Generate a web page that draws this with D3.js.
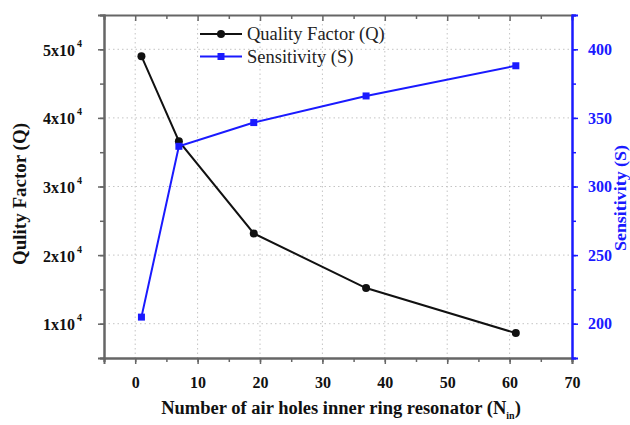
<!DOCTYPE html>
<html>
<head>
<meta charset="utf-8">
<script src="https://cdn.jsdelivr.net/npm/d3@7"></script>
<style>
  body { margin: 0; background: #fff; }
  svg { display: block; }
</style>
</head>
<body>
<svg id="chart" width="630" height="425"></svg>
<script>
// Number of air holes in the inner ring
const holes = [1, 7, 19, 37, 61];
// Quality factor for each configuration
const qualityFactor = [49000, 36600, 23150, 15200, 8630];
// Sensitivity for each configuration
const sensitivity = [204.8, 329.3, 346.6, 366, 388];

const xTicks = [0, 10, 20, 30, 40, 50, 60, 70];
const qTicks = [10000, 20000, 30000, 40000, 50000];
const sTicks = [200, 250, 300, 350, 400];

const legendLabels = ["Quality Factor (Q)", "Sensitivity (S)"];

const FONT = "'Liberation Serif', 'DejaVu Serif', 'Times New Roman', serif";
const W = 630, H = 425;
const m = { left: 104, right: 58, top: 15, bottom: 67 };
const innerW = W - m.left - m.right;
const innerH = H - m.top - m.bottom;

const svg = d3.select("#chart");
const g = svg.append("g").attr("transform", `translate(${m.left},${m.top})`);

const x = d3.scaleLinear().domain([-5, 70]).range([0, innerW]);
const yQ = d3.scaleLinear().domain([5000, 55000]).range([innerH, 0]);
const yS = d3.scaleLinear().domain([175, 425]).range([innerH, 0]);

const axisGray = "#666";
const blue = "#1a1aff";

// dotted grid
g.append("g").selectAll("line").data(xTicks.filter(d => d < 70)).join("line")
  .attr("x1", d => x(d)).attr("x2", d => x(d))
  .attr("y1", 0).attr("y2", innerH)
  .attr("stroke", "#c4c4c4").attr("stroke-width", 1).attr("stroke-dasharray", "1.5,3");
g.append("g").selectAll("line").data(qTicks).join("line")
  .attr("x1", 0).attr("x2", innerW)
  .attr("y1", d => yQ(d)).attr("y2", d => yQ(d))
  .attr("stroke", "#c4c4c4").attr("stroke-width", 1).attr("stroke-dasharray", "1.5,3");

// axes
function styleAxis(sel, color) {
  sel.attr("font-family", null);
  sel.selectAll("path").attr("stroke", color).attr("stroke-width", 2);
  sel.selectAll("line").attr("stroke", color).attr("stroke-width", 1.5);
  sel.selectAll("text")
    .attr("fill", color === axisGray ? "#111" : color)
    .attr("font-size", 16).attr("font-weight", "bold");
}

const xMinor = d3.range(-5, 71, 5);
// bottom minor + major
const bottomMinor = g.append("g").attr("transform", `translate(0,${innerH})`)
  .call(d3.axisBottom(x).tickValues(xMinor).tickSize(4).tickFormat(""));
styleAxis(bottomMinor, axisGray);
const bottomAxis = g.append("g").attr("transform", `translate(0,${innerH})`)
  .call(d3.axisBottom(x).tickValues(xTicks).tickSize(6).tickPadding(13).tickFormat(d3.format("d")));
styleAxis(bottomAxis, axisGray);

// top axis with inward ticks
const topAxis = g.append("g")
  .call(d3.axisBottom(x).tickValues(xMinor).tickSize(5).tickFormat(""));
styleAxis(topAxis, axisGray);
topAxis.selectAll("line").attr("y2", d => xTicks.includes(d) ? 6 : 4);

// left axis
const qMinor = d3.range(5000, 55001, 5000);
const leftMinor = g.append("g").call(d3.axisLeft(yQ).tickValues(qMinor).tickSize(4).tickFormat(""));
styleAxis(leftMinor, axisGray);
const leftAxis = g.append("g").call(d3.axisLeft(yQ).tickValues(qTicks).tickSize(6).tickPadding(8).tickFormat(""));
styleAxis(leftAxis, axisGray);
leftAxis.selectAll(".tick").append("text")
  .attr("x", -29).attr("dy", "0.38em").attr("text-anchor", "end")
  .attr("fill", "#111").attr("font-size", 16).attr("font-weight", "bold")
  .text(d => `${d / 10000}x10`);
leftAxis.selectAll(".tick").append("text")
  .attr("x", -22).attr("y", -3).attr("text-anchor", "end")
  .attr("fill", "#111").attr("font-size", 10).attr("font-weight", "bold")
  .text("4");

// right axis
const sMinor = d3.range(175, 426, 25);
const rightMinor = g.append("g").attr("transform", `translate(${innerW},0)`)
  .call(d3.axisRight(yS).tickValues(sMinor).tickSize(4).tickFormat(""));
styleAxis(rightMinor, blue);
const rightAxis = g.append("g").attr("transform", `translate(${innerW},0)`)
  .call(d3.axisRight(yS).tickValues(sTicks).tickSize(6).tickPadding(10).tickFormat(d3.format("d")));
styleAxis(rightAxis, blue);

// series
const qData = holes.map((h, i) => [h, qualityFactor[i]]);
const sData = holes.map((h, i) => [h, sensitivity[i]]);

g.append("path").datum(qData)
  .attr("fill", "none").attr("stroke", "#111").attr("stroke-width", 2)
  .attr("d", d3.line().x(d => x(d[0])).y(d => yQ(d[1])));
g.append("path").datum(sData)
  .attr("fill", "none").attr("stroke", blue).attr("stroke-width", 2)
  .attr("d", d3.line().x(d => x(d[0])).y(d => yS(d[1])));

g.append("g").selectAll("circle").data(qData).join("circle")
  .attr("cx", d => x(d[0])).attr("cy", d => yQ(d[1])).attr("r", 4)
  .attr("fill", "#111");
g.append("g").selectAll("rect").data(sData).join("rect")
  .attr("x", d => x(d[0]) - 3.5).attr("y", d => yS(d[1]) - 3.5)
  .attr("width", 7).attr("height", 7).attr("fill", blue);

// legend
const legend = svg.append("g");
const legColors = ["#111", blue];
legendLabels.forEach((lab, i) => {
  const ly = 34 + i * 22.5;
  const row = legend.append("g");
  row.append("line").attr("x1", 200).attr("x2", 242).attr("y1", ly).attr("y2", ly)
    .attr("stroke", legColors[i]).attr("stroke-width", 2);
  if (i === 0) {
    row.append("circle").attr("cx", 221).attr("cy", ly).attr("r", 4).attr("fill", legColors[i]);
  } else {
    row.append("rect").attr("x", 217.5).attr("y", ly - 3.5).attr("width", 7).attr("height", 7)
      .attr("fill", legColors[i]);
  }
  row.append("text").attr("x", 247).attr("y", ly).attr("dy", "0.35em")
    .attr("font-size", 18.5).attr("fill", "#222").text(lab);
});

// axis titles (vertical ones are set in a tall, narrow type)
svg.append("text")
  .attr("transform", `translate(26,194) rotate(-90)`)
  .attr("text-anchor", "middle").attr("font-size", 18).attr("font-weight", "bold").attr("fill", "#111")
  .attr("textLength", 142).attr("lengthAdjust", "spacingAndGlyphs")
  .text("Qulity Factor (Q)");

svg.append("text")
  .attr("transform", `translate(626,198) rotate(-90)`)
  .attr("text-anchor", "middle").attr("font-size", 17.5).attr("font-weight", "bold").attr("fill", blue)
  .attr("textLength", 106).attr("lengthAdjust", "spacingAndGlyphs")
  .text("Sensitivity (S)");

const xt = svg.append("text")
  .attr("x", 341).attr("y", 414)
  .attr("text-anchor", "middle").attr("font-size", 18.5).attr("font-weight", "bold").attr("fill", "#111");
xt.append("tspan").text("Number of air holes inner ring resonator (N");
xt.append("tspan").attr("font-size", 10).attr("dy", 5).text("in");
xt.append("tspan").attr("dy", -5).text(")");

// serif type throughout
svg.selectAll("text").style("font-family", FONT);
</script>
</body>
</html>
